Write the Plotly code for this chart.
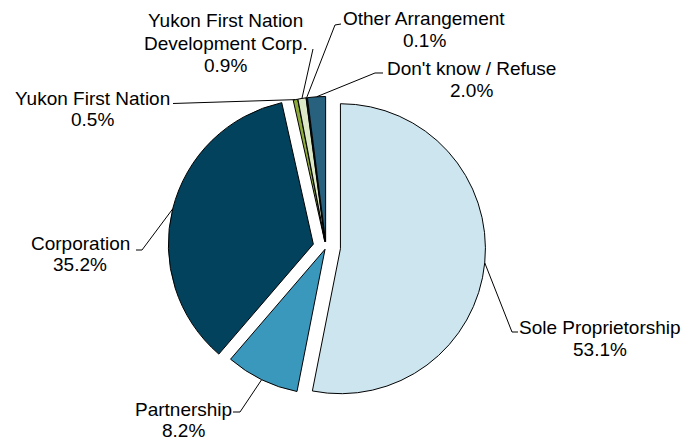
import math
import plotly.graph_objects as go

# ---- data ----
categories = ["Sole Proprietorship", "Partnership", "Corporation", "Yukon First Nation",
              "Yukon First Nation<br>Development Corp.", "Other Arrangement", "Don't know / Refuse"]
shares = [53.1, 8.2, 35.2, 0.5, 0.9, 0.1, 2.0]
pct_labels = ["53.1%", "8.2%", "35.2%", "0.5%", "0.9%", "0.1%", "2.0%"]

# ---- styling / layout ----
colors = ["#cde5ef", "#3b98bd", "#02425c", "#8eaa3b", "#dde8c6", "#16384c", "#28617e"]
pulls = [0.10, 0.015, 0.09, 0.04, 0.04, 0.04, 0.04]

VIEW_W, VIEW_H = 697, 440
OFF = 8                         # default page body margin
W, H = VIEW_W - OFF, VIEW_H - OFF
PIE_CX, PIE_CY, PIE_R = 326.0, 247.3, 145.0   # pixel centre / radius in window coords
maxpull = max(pulls)
half = PIE_R * (1 + maxpull)


def px2paper(x, y):
    return (x - OFF) / W, 1 - (y - OFF) / H


dom_x = [(PIE_CX - half - OFF) / W, (PIE_CX + half - OFF) / W]
dom_y = [1 - (PIE_CY + half - OFF) / H, 1 - (PIE_CY - half - OFF) / H]

# label line centres (window px): x centre, list of y centres per line
label_pos = [
    (600, [327, 349]),
    (183, [409, 430]),
    (80, [243, 264]),
    (92, [98, 119.5]),
    (226, [21, 43.5, 65.5]),
    (424, [19, 41]),
    (471, [68.5, 90]),
]
elbows = [
    [(512, 332), (518, 332)],
    [(240, 412), (233, 412)],
    [(142, 250), (136, 250)],
    [(173, 103.5)],
    [(313, 49)],
    [(335, 25), (341, 24)],
    [(375, 73), (383, 73)],
]

FONT = dict(family="Arial, 'Liberation Sans', sans-serif", size=19, color="#000000")

fig = go.Figure(go.Pie(
    labels=[c.replace("<br>", " ") for c in categories],
    values=shares,
    sort=False,
    direction="clockwise",
    rotation=0,
    pull=pulls,
    marker=dict(colors=colors, line=dict(color="#000000", width=1)),
    textinfo="none",
    hoverinfo="label+percent",
    domain=dict(x=dom_x, y=dom_y),
    showlegend=False,
))

total = sum(shares)
cum = 0.0
shapes = []
annotations = []
for i, v in enumerate(shares):
    mid = 2 * math.pi * (cum + v / 2) / total
    cum += v
    rr = PIE_R * (1 + pulls[i])
    sx = PIE_CX + rr * math.sin(mid)
    sy = PIE_CY - rr * math.cos(mid)
    pts = [(sx, sy)] + elbows[i]
    path = ""
    for j, (x, y) in enumerate(pts):
        px, py = px2paper(x, y)
        path += ("M" if j == 0 else " L") + f" {px:.5f} {py:.5f}"
    shapes.append(dict(type="path", xref="paper", yref="paper", path=path,
                       line=dict(color="#000000", width=1)))
    lines = categories[i].split("<br>") + [pct_labels[i]]
    cx, ys = label_pos[i]
    for txt, yy in zip(lines, ys):
        lx, ly = px2paper(cx, yy)
        annotations.append(dict(x=lx, y=ly, xref="paper", yref="paper",
                                text=txt, showarrow=False,
                                xanchor="center", yanchor="middle",
                                align="center", font=FONT))

fig.update_layout(
    width=W, height=H,
    margin=dict(l=0, r=0, t=0, b=0),
    paper_bgcolor="#ffffff", plot_bgcolor="#ffffff",
    shapes=shapes, annotations=annotations,
)

fig.write_html("out.html")
